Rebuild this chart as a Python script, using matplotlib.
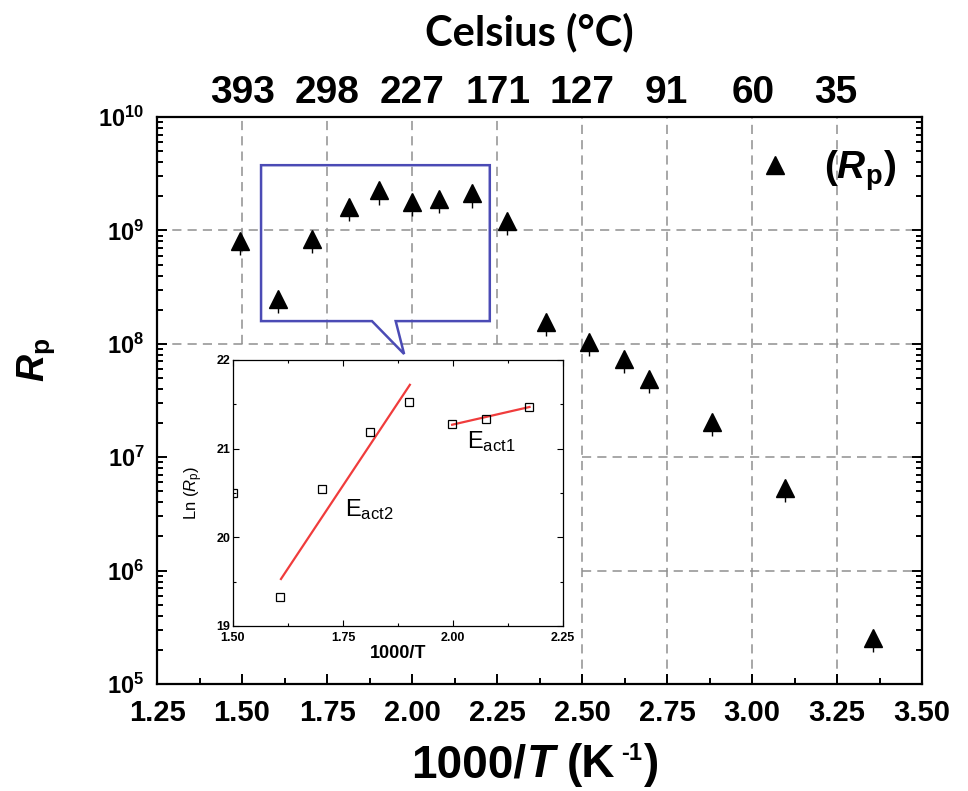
import numpy as np
import matplotlib
matplotlib.use("Agg")
import matplotlib.pyplot as plt
from matplotlib import font_manager
from matplotlib.font_manager import FontProperties
from matplotlib.ticker import MultipleLocator, FuncFormatter, LogLocator, NullFormatter, FormatStrFormatter
from matplotlib.lines import Line2D
from matplotlib.patches import Polygon


def pick_font(*names):
    for n in names:
        try:
            font_manager.findfont(FontProperties(family=[n]), fallback_to_default=False)
            return n
        except ValueError:
            continue
    return "DejaVu Sans"


ARIAL = pick_font("Liberation Sans", "Arial")
NARROW = pick_font("Liberation Sans Narrow", "Arial Narrow", "Liberation Sans")
TITLE = pick_font("Lato", "Open Sans", "Liberation Sans")

plt.rcParams["font.family"] = [ARIAL, "DejaVu Sans"]
plt.rcParams["mathtext.fontset"] = "custom"
plt.rcParams["mathtext.rm"] = ARIAL
plt.rcParams["mathtext.it"] = ARIAL + ":italic"
plt.rcParams["mathtext.bf"] = ARIAL + ":bold"
try:
    plt.rcParams["mathtext.bfit"] = ARIAL + ":bold:italic"
    BFIT = r"\mathbfit"
except KeyError:
    BFIT = r"\mathbf"

# main data: 1000/T and polarisation resistance
inv_t = [1.494, 1.606, 1.706, 1.815, 1.903, 2.000, 2.079, 2.176,
         2.279, 2.394, 2.520, 2.624, 2.697, 2.882, 3.097, 3.356]
rp = [8.1e8, 2.5e8, 8.4e8, 1.62e9, 2.25e9, 1.78e9, 1.88e9, 2.12e9,
      1.21e9, 1.56e8, 1.04e8, 7.3e7, 4.9e7, 2.04e7, 5.35e6, 2.55e5]
rp_err_frac = 0.25

# top axis, Celsius
celsius = [393, 298, 227, 171, 127, 91, 60, 35]

# inset: Ln(Rp) vs 1000/T with the two fits
ins_x = [1.500, 1.606, 1.703, 1.812, 1.900, 1.998, 2.076, 2.173]
ins_ln = [20.50, 19.33, 20.54, 21.19, 21.53, 21.28, 21.34, 21.47]
fit2_x = [1.609, 1.902]
fit2_y = [19.53, 21.72]
fit1_x = [1.998, 2.174]
fit1_y = [21.27, 21.47]

fig = plt.figure(figsize=(9.68, 7.91), dpi=100)
ax = fig.add_axes([0.1622, 0.1353, 0.7903, 0.7168])
ax.set_yscale("log")
ax.set_xlim(1.25, 3.5)
ax.set_ylim(1e5, 1e10)

ax.xaxis.set_major_locator(MultipleLocator(0.25))
ax.xaxis.set_minor_locator(MultipleLocator(0.125))
ax.xaxis.set_major_formatter(FormatStrFormatter("%.2f"))
ax.yaxis.set_major_locator(LogLocator(base=10, numticks=10))
ax.yaxis.set_minor_locator(LogLocator(base=10, subs=np.arange(2, 10), numticks=20))
ax.yaxis.set_minor_formatter(NullFormatter())
ax.yaxis.set_major_formatter(FuncFormatter(lambda v, p: r"$\mathbf{10^{%d}}$" % round(np.log10(v))))

ax.tick_params(which="both", direction="in", top=True, right=True, width=1.4)
ax.tick_params(which="major", length=7)
ax.tick_params(which="minor", length=4.5)
ax.tick_params(axis="x", which="major", labelsize=21, pad=11)
ax.tick_params(axis="y", which="major", labelsize=17, pad=9)
for t in ax.get_xticklabels():
    t.set_fontweight("bold")
    t.set_fontfamily(NARROW)
for s in ax.spines.values():
    s.set_linewidth(1.6)

# dashed grid, left lower part is hidden behind the inset picture
grid_kw = dict(color="#8f8f8f", lw=1.1, ls=(0, (6, 4)), zorder=1)
for gx in np.arange(1.5, 3.3, 0.25):
    low = 1e8 if gx < 2.4 else 1e5
    ax.vlines(gx, low, 1e10, **grid_kw)
for gy in [1e6, 1e7, 1e8, 1e9]:
    left = 1.25 if gy >= 1e8 else 2.5
    ax.hlines(gy, left, 3.5, **grid_kw)

rp_arr = np.array(rp)
ax.errorbar(inv_t, rp, yerr=[rp_arr * rp_err_frac, np.zeros_like(rp_arr)],
            fmt="^", color="k", ms=13, elinewidth=1.0, capsize=0, zorder=4)

ax.set_ylabel(r"$%s{R}_\mathbf{p}$" % BFIT, fontsize=27)
ax.yaxis.set_label_coords(-0.131, 0.571)

h = Line2D([], [], marker="^", color="k", ls="none", ms=13)
ax.legend([h], [r"($%s{R}_\mathbf{p}$)" % BFIT], loc="center right",
          bbox_to_anchor=(0.966, 0.905), frameon=False, borderpad=0, borderaxespad=0,
          prop={"weight": "bold", "size": 28, "family": ARIAL},
          handlelength=0.8, handletextpad=0.85)

# callout box pointing to the inset
callout = Polygon([(0.136, 0.640), (0.136, 0.915), (0.435, 0.915), (0.435, 0.640),
                   (0.312, 0.640), (0.323, 0.582), (0.281, 0.640)],
                  closed=True, fill=False, edgecolor="#4b4bb5", lw=1.8,
                  transform=ax.transAxes, zorder=3, clip_on=False)
ax.add_patch(callout)

# top axis in Celsius
ax2 = ax.twiny()
ax2.set_xlim(ax.get_xlim())
ax2.set_xticks([1000.0 / (c + 273) for c in celsius])
ax2.set_xticklabels([str(c) for c in celsius])
ax2.tick_params(axis="x", length=0, labelsize=28, pad=4)
for t in ax2.get_xticklabels():
    t.set_fontweight("bold")
    t.set_fontfamily(NARROW)
for s in ax2.spines.values():
    s.set_visible(False)

fig.text(0.547, 1 - 32 / 791, "Celsius (°C)", ha="center", va="center",
         fontsize=30, fontweight="bold", family=TITLE)

# x label, built from pieces so it can use the narrow font
def draw_pieces(cx, y_base, pieces):
    renderer = fig.canvas.get_renderer()
    texts = []
    for s, kw, dy, gap in pieces:
        t = fig.text(0, y_base + dy / fig.bbox.height, s, ha="left", va="baseline", **kw)
        texts.append((t, gap))
    widths = [(t.get_window_extent(renderer).width + gap) / fig.bbox.width for t, gap in texts]
    x = cx - sum(widths) / 2
    for (t, gap), w in zip(texts, widths):
        t.set_x(x)
        x += w


big = dict(fontsize=33, fontweight="bold", family=NARROW)
big_it = dict(fontsize=33, fontweight="bold", fontstyle="italic", family=NARROW)
small = dict(fontsize=17, fontweight="bold", family=NARROW)
draw_pieces(0.553, 1 - 777 / 791, [
    ("1000/", big, 0, 1),
    ("T", big_it, 0, 12),
    ("(K", big, 0, 6),
    ("-1", small, 17, 2),
    (")", big, 0, 0),
])

# inset
axi = fig.add_axes([0.2407, 0.2086, 0.3409, 0.3363])
axi.set_facecolor("white")
axi.set_xlim(1.5, 2.25)
axi.set_ylim(19, 22)
axi.xaxis.set_major_locator(MultipleLocator(0.25))
axi.xaxis.set_minor_locator(MultipleLocator(0.125))
axi.xaxis.set_major_formatter(FormatStrFormatter("%.2f"))
axi.yaxis.set_major_locator(MultipleLocator(1))
axi.yaxis.set_minor_locator(MultipleLocator(0.5))
axi.tick_params(which="both", direction="in", top=True, right=True, width=0.8,
                labelsize=9, pad=2)
axi.tick_params(axis="x", pad=4)
axi.tick_params(which="major", length=4)
axi.tick_params(which="minor", length=2.5)
for t in axi.get_xticklabels() + axi.get_yticklabels():
    t.set_fontweight("bold")
for s in axi.spines.values():
    s.set_linewidth(0.9)

axi.plot(fit2_x, fit2_y, color="#f03c3c", lw=1.6, zorder=2)
axi.plot(fit1_x, fit1_y, color="#f03c3c", lw=1.6, zorder=2)
axi.plot(ins_x, ins_ln, ls="none", marker="s", ms=5.5, mfc="none", mec="k", mew=0.9, zorder=3)

axi.text(1.755, 20.31, r"$\mathrm{E}_{\mathrm{act2}}$", fontsize=17, va="center", ha="left")
axi.text(2.031, 21.08, r"$\mathrm{E}_{\mathrm{act1}}$", fontsize=17, va="center", ha="left")

axi.set_xlabel("1000/T", fontsize=13, fontweight="bold", labelpad=1)
axi.set_ylabel(r"Ln ($\mathit{R}_\mathrm{p}$)", fontsize=12)
axi.yaxis.set_label_coords(-0.085, 0.5)

fig.savefig("out.png", dpi=100)
